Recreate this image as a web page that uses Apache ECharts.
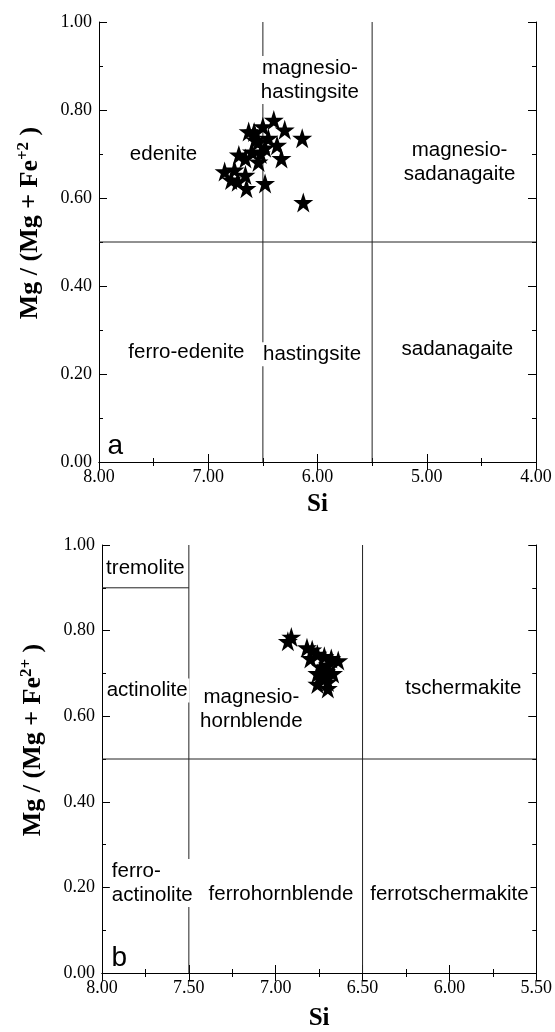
<!DOCTYPE html>
<html>
<head>
<meta charset="utf-8">
<script src="https://cdn.jsdelivr.net/npm/echarts@6/dist/echarts.min.js"></script>
<style>
  html, body { margin: 0; padding: 0; background: #fff; }
  #main { width: 555px; height: 1032px; }
</style>
</head>
<body>
<div id="main"></div>
<script>
// data for plot a (Si, Mg/(Mg+Fe2))
var starsA = [
  [6.40, 0.777], [6.30, 0.755], [6.14, 0.736], [6.63, 0.751], [6.50, 0.762],
  [6.57, 0.732], [6.45, 0.736], [6.48, 0.714], [6.60, 0.705], [6.33, 0.690],
  [6.72, 0.698], [6.66, 0.690], [6.54, 0.682], [6.85, 0.660], [6.76, 0.664],
  [6.66, 0.652], [6.79, 0.641], [6.48, 0.633], [6.65, 0.622], [6.73, 0.637],
  [6.13, 0.590], [6.37, 0.720], [6.54, 0.728], [6.52, 0.700], [6.58, 0.750]
];
// data for plot b
var starsB = [
  [6.93, 0.775], [6.91, 0.785], [6.82, 0.760], [6.79, 0.755], [6.76, 0.745],
  [6.80, 0.735], [6.72, 0.740], [6.68, 0.735], [6.64, 0.730], [6.70, 0.720],
  [6.74, 0.715], [6.71, 0.705], [6.76, 0.700], [6.73, 0.690], [6.76, 0.675],
  [6.70, 0.680], [6.70, 0.665], [6.67, 0.700]
];
// field boundaries
var linesA = [
  [[6.5, 0], [6.5, 1]],
  [[5.5, 0], [5.5, 1]],
  [[8, 0.5], [4, 0.5]]
];
var linesB = [
  [[7.5, 0], [7.5, 1]],
  [[6.5, 0], [6.5, 1]],
  [[8, 0.9], [7.5, 0.9]],
  [[8, 0.5], [5.5, 0.5]]
];
// field names [Si, Mg, text]
var namesA = [
  [7.41, 0.70, 'edenite'],
  [6.07, 0.868, 'magnesio-\nhastingsite'],
  [4.70, 0.68, 'magnesio-\nsadanagaite'],
  [7.20, 0.25, 'ferro-edenite'],
  [6.05, 0.245, 'hastingsite'],
  [4.72, 0.255, 'sadanagaite']
];
var namesB = [
  [7.75, 0.945, 'tremolite'],
  [7.74, 0.66, 'actinolite'],
  [7.14, 0.615, 'magnesio-\nhornblende'],
  [5.92, 0.664, 'tschermakite'],
  [6.97, 0.183, 'ferrohornblende'],
  [6.00, 0.183, 'ferrotschermakite']
];
var leftNamesB = [[7.955, 0.21, 'ferro-\nactinolite']];
var xTicksA = { min: 4, max: 8, interval: 1 };
var xTicksB = { min: 5.5, max: 8, interval: 0.5 };

var STAR = 'path://M50 0 L61.2 34.5 L97.6 34.5 L68.2 55.9 L79.4 90.5 L50 69.1 L20.6 90.5 L31.8 55.9 L2.4 34.5 L38.8 34.5 Z';
var serif = 'Liberation Serif';
var sans = 'Liberation Sans';

var myChart = echarts.init(document.getElementById('main'));

function xAxis(gi, t, pos) {
  return {
    type: 'value', gridIndex: gi, position: pos, inverse: true,
    min: t.min, max: t.max, interval: t.interval,
    splitLine: { show: false },
    axisLine: { lineStyle: { color: '#000', width: 1 } },
    axisTick: { inside: true, length: 8, lineStyle: { color: '#000' } },
    minorTick: { show: true, splitNumber: 2, length: 4, lineStyle: { color: '#000' } },
    axisLabel: {
      show: pos === 'bottom', margin: 6, color: '#000',
      fontFamily: serif, fontSize: 18,
      formatter: function (v) { return v.toFixed(2); }
    },
    name: pos === 'bottom' ? 'Si' : '',
    nameLocation: 'middle',
    nameGap: gi === 0 ? 30 : 33,
    nameTextStyle: { fontFamily: serif, fontWeight: 'bold', fontSize: 25, color: '#000' }
  };
}

function yAxis(gi, pos, sup) {
  return {
    type: 'value', gridIndex: gi, position: pos,
    min: 0, max: 1, interval: 0.2,
    splitLine: { show: false },
    axisLine: { lineStyle: { color: '#000', width: 1 } },
    axisTick: { inside: true, length: 8, lineStyle: { color: '#000' } },
    minorTick: { show: true, splitNumber: 2, length: 4, lineStyle: { color: '#000' } },
    axisLabel: {
      show: pos === 'left', margin: 7, color: '#000',
      fontFamily: serif, fontSize: 18,
      formatter: function (v) { return v.toFixed(2); }
    },
    name: pos === 'left' ? '{b|Mg / (Mg + Fe}{s|' + sup + '}{b| )}' : '',
    nameLocation: 'middle',
    nameGap: 54,
    nameTextStyle: {
      padding: [0, 0, 0, 38],
      rich: {
        b: { fontFamily: serif, fontWeight: 'bold', fontSize: 26, color: '#000', lineHeight: 30 },
        s: { fontFamily: serif, fontWeight: 'bold', fontSize: 17, color: '#000', lineHeight: 30, verticalAlign: 'top' }
      }
    }
  };
}

function lineSeries(list, gi) {
  return list.map(function (seg) {
    return {
      type: 'line', xAxisIndex: gi * 2, yAxisIndex: gi * 2,
      data: seg, symbol: 'none', silent: true, z: 1,
      lineStyle: { color: '#222', width: 1 }
    };
  });
}

function nameSeries(list, gi, align) {
  return {
    type: 'scatter', xAxisIndex: gi * 2, yAxisIndex: gi * 2, symbolSize: 0, z: 3,
    itemStyle: { opacity: 1 },
    data: list.map(function (d) { return { value: [d[0], d[1]], name: d[2] }; }),
    label: {
      show: true, position: 'inside', align: align,
      formatter: function (p) { return p.name; },
      fontFamily: sans, fontSize: 20.5, lineHeight: 24, color: '#000',
      textBorderWidth: 0, opacity: 1,
      backgroundColor: '#fff', padding: [0, 2]
    }
  };
}

function starSeries(list, gi) {
  return {
    type: 'scatter', xAxisIndex: gi * 2, yAxisIndex: gi * 2,
    data: list, symbol: STAR, symbolSize: 20, z: 5,
    itemStyle: { color: '#000', opacity: 1, borderWidth: 0 }
  };
}

function letter(gi, si, txt) {
  return {
    type: 'scatter', xAxisIndex: gi * 2, yAxisIndex: gi * 2, symbolSize: 0, z: 3,
    itemStyle: { opacity: 1 },
    data: [{ value: [si, 0.035], name: txt }],
    label: {
      show: true, position: 'inside', formatter: txt,
      fontFamily: sans, fontSize: 28, color: '#000', textBorderWidth: 0
    }
  };
}

var option = {
  backgroundColor: '#fff',
  animation: false,
  grid: [
    { left: 99, right: 19, top: 22, height: 440 },
    { left: 102, right: 18, top: 545, height: 438 }
  ],
  xAxis: [
    xAxis(0, xTicksA, 'bottom'), xAxis(0, xTicksA, 'top'),
    xAxis(1, xTicksB, 'bottom'), xAxis(1, xTicksB, 'top')
  ],
  yAxis: [
    yAxis(0, 'left', '+2'), yAxis(0, 'right', ''),
    yAxis(1, 'left', '2+'), yAxis(1, 'right', '')
  ],
  series: []
    .concat(lineSeries(linesA, 0))
    .concat(lineSeries(linesB, 1))
    .concat([
      nameSeries(namesA, 0, 'center'),
      nameSeries(namesB, 1, 'center'),
      nameSeries(leftNamesB, 1, 'left'),
      letter(0, 7.85, 'a'),
      letter(1, 7.90, 'b'),
      starSeries(starsA, 0),
      starSeries(starsB, 1)
    ])
};
myChart.setOption(option);
window.addEventListener('resize', function () {
  myChart.resize();
});
</script>
</body>
</html>
